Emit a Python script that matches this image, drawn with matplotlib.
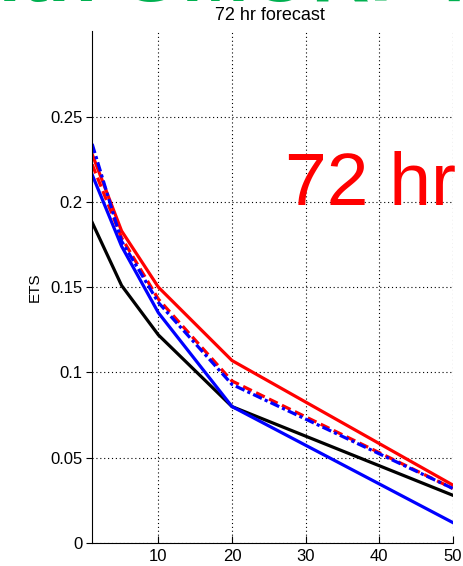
import matplotlib
matplotlib.use("Agg")
import matplotlib.pyplot as plt

plt.rcParams['font.family'] = ['Liberation Sans', 'DejaVu Sans']

thresholds = [1, 5, 10, 20, 50]
black_solid = [0.188, 0.151, 0.122, 0.080, 0.028]
blue_solid = [0.216, 0.174, 0.135, 0.080, 0.012]
red_solid = [0.228, 0.183, 0.150, 0.107, 0.034]
red_dashed = [0.222, 0.179, 0.143, 0.095, 0.032]
blue_dashdot = [0.234, 0.177, 0.141, 0.093, 0.032]

xticks = [10, 20, 30, 40, 50]
yticks = [0, 0.05, 0.1, 0.15, 0.2, 0.25]
ytick_labels = ['0', '0.05', '0.1', '0.15', '0.2', '0.25']

fig = plt.figure(figsize=(4.63, 5.66), dpi=100)
ax = fig.add_axes([0.199, 0.0406, 0.779, 0.904])

lw = 2.3
ax.plot(thresholds, black_solid, color='black', lw=lw, ls='-')
ax.plot(thresholds, blue_solid, color='blue', lw=lw, ls='-')
ax.plot(thresholds, red_solid, color='red', lw=lw, ls='-')
ax.plot(thresholds, red_dashed, color='red', lw=lw, ls=(0, (3, 1.5)))
ax.plot(thresholds, blue_dashdot, color='blue', lw=lw, ls=(0, (3, 1, 1, 1)))

ax.set_xlim(1, 50)
ax.set_ylim(0, 0.3)
ax.set_xticks(xticks)
ax.set_yticks(yticks)
ax.set_yticklabels(ytick_labels)
ax.grid(True, ls=(0, (1, 2.5)), color='black', lw=0.8)
ax.spines['top'].set_visible(False)
ax.spines['right'].set_visible(False)
ax.tick_params(axis='x', direction='in', length=5, labelsize=12, pad=4)
ax.tick_params(axis='y', direction='out', length=4, labelsize=12, pad=3)
ax.set_ylabel('ETS', fontsize=11, labelpad=6)

fig.text(0.583, 1 - 16 / 566, '72 hr forecast', fontsize=13, ha='center',
         va='center')

ax.text(0.773, (543 - 205) / 512, '72 hr', transform=ax.transAxes,
        color='red', fontsize=54, ha='center', va='baseline')

fig.text(0.46, 1.035, 'with GMORF fi', color='#00b050', fontsize=58,
         fontweight='bold', ha='center', va='center')
fig.text(-0.02, 0.70, 'r', color='red', fontsize=40, ha='center',
         va='center')

fig.savefig('out.png', dpi=100)
